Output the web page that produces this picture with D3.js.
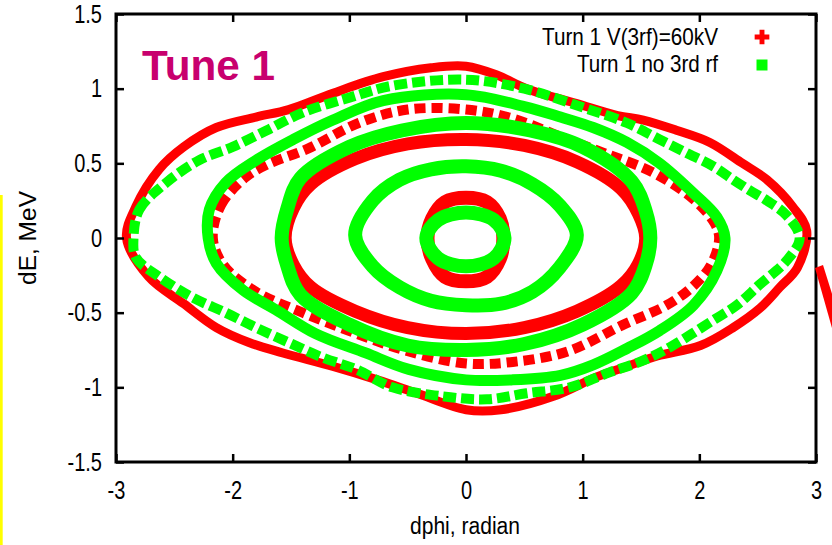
<!DOCTYPE html>
<html><head><meta charset="utf-8">
<script src="https://cdn.jsdelivr.net/npm/d3@7"></script>
<style>html,body{margin:0;padding:0;background:#fff;overflow:hidden}</style>
</head><body>
<svg id="c" width="832" height="545" xmlns="http://www.w3.org/2000/svg"></svg>
<script>
// ---------- data ----------
const xTicks = [-3, -2, -1, 0, 1, 2, 3];
const xTickLabels = ["-3", "-2", "-1", "0", "1", "2", "3"];
const yTicks = [-1.5, -1, -0.5, 0, 0.5, 1, 1.5];
const yTickLabels = ["-1.5", "-1", "-0.5", "0", "0.5", "1", "1.5"];
const seriesNames = ["Turn 1 V(3rf)=60kV", "Turn 1 no 3rd rf"];

// series 1 (red): orbits with 3rd harmonic, [dphi, dE]
const red1 = [[-0.33,0],[-0.29,0.13],[-0.18,0.24],[0,0.27],[0.18,0.24],[0.29,0.13],[0.32,0],[0.29,-0.14],[0.18,-0.26],[0,-0.29],[-0.18,-0.26],[-0.29,-0.14]];
const red3 = [[-1.55,0],[-1.48,0.2],[-1.33,0.36],[-0.95,0.53],[-0.5,0.63],[0,0.66],[0.5,0.62],[0.95,0.51],[1.33,0.33],[1.48,0.16],[1.54,0],[1.48,-0.17],[1.33,-0.32],[0.95,-0.49],[0.5,-0.6],[0,-0.64],[-0.5,-0.6],[-0.95,-0.49],[-1.33,-0.33],[-1.48,-0.18]];
const red4 = [[-2.17,0],[-2.1,0.22],[-1.9,0.4],[-1.71,0.49],[-1.35,0.6],[-0.92,0.77],[-0.5,0.86],[0,0.86],[0.4,0.8],[0.87,0.66],[1.18,0.57],[1.6,0.44],[1.95,0.26],[2.13,0.1],[2.17,0],[2.1,-0.18],[1.95,-0.32],[1.72,-0.45],[1.35,-0.58],[0.87,-0.76],[0.4,-0.83],[0,-0.84],[-0.49,-0.76],[-0.94,-0.64],[-1.4,-0.5],[-1.8,-0.36],[-2.08,-0.18]];
const red5 = [[-2.91,0],[-2.83,0.21],[-2.63,0.46],[-2.42,0.61],[-2.14,0.74],[-1.8,0.81],[-1.52,0.86],[-1.14,0.97],[-0.71,1.08],[-0.3,1.14],[0,1.15],[0.27,1.09],[0.52,1.0],[0.95,0.9],[1.3,0.82],[1.52,0.79],[1.81,0.72],[2.09,0.64],[2.37,0.5],[2.58,0.39],[2.8,0.21],[2.92,0.05],[2.84,-0.2],[2.69,-0.33],[2.52,-0.47],[2.29,-0.6],[2.01,-0.72],[1.64,-0.79],[1.38,-0.86],[1.12,-0.93],[0.75,-1.06],[0.3,-1.15],[0,-1.15],[-0.42,-1.04],[-0.76,-0.95],[-1.14,-0.86],[-1.57,-0.77],[-1.86,-0.7],[-2.14,-0.6],[-2.42,-0.44],[-2.72,-0.26]];

// series 2 (green): orbits without 3rd harmonic
const green1 = [[-0.34,0],[-0.24,0.12],[0,0.17],[0.24,0.12],[0.33,0],[0.24,-0.135],[0,-0.19],[-0.24,-0.135]];
const green2 = [[-0.95,0.02],[-0.8,0.25],[-0.57,0.39],[-0.3,0.46],[0,0.48],[0.3,0.45],[0.57,0.36],[0.8,0.22],[0.95,0.02],[0.8,-0.2],[0.57,-0.36],[0.3,-0.44],[0,-0.45],[-0.3,-0.42],[-0.57,-0.33],[-0.8,-0.19]];
const green3 = [[-1.58,0],[-1.53,0.2],[-1.42,0.4],[-1.0,0.61],[-0.55,0.72],[0,0.77],[0.55,0.72],[1.0,0.61],[1.42,0.38],[1.54,0.18],[1.58,0],[1.54,-0.18],[1.42,-0.37],[1.0,-0.58],[0.5,-0.71],[0,-0.75],[-0.5,-0.72],[-1.0,-0.58],[-1.42,-0.38],[-1.53,-0.19]];
const green4 = [[-2.21,0],[-2.2,0.19],[-2.06,0.37],[-1.8,0.52],[-1.48,0.66],[-1.14,0.79],[-0.71,0.92],[0,0.96],[0.5,0.88],[0.81,0.81],[1.09,0.74],[1.38,0.64],[1.66,0.5],[1.95,0.3],[2.15,0.14],[2.22,0],[2.15,-0.22],[1.95,-0.45],[1.66,-0.62],[1.38,-0.74],[1.09,-0.85],[0.81,-0.92],[0.4,-0.95],[0,-0.95],[-0.49,-0.88],[-0.86,-0.77],[-1.29,-0.64],[-1.63,-0.48],[-1.91,-0.35],[-2.14,-0.17]];
const green5 = [[-2.85,0],[-2.8,0.19],[-2.57,0.37],[-2.29,0.52],[-2.0,0.61],[-1.71,0.72],[-1.4,0.84],[-1.0,0.94],[-0.63,1.02],[0,1.06],[0.5,1.0],[0.98,0.88],[1.38,0.77],[1.66,0.66],[1.89,0.57],[2.12,0.48],[2.29,0.39],[2.43,0.32],[2.58,0.25],[2.75,0.15],[2.86,0],[2.75,-0.15],[2.52,-0.31],[2.32,-0.45],[2.12,-0.55],[1.75,-0.73],[1.52,-0.82],[1.23,-0.9],[0.89,-1.0],[0.52,-1.04],[0.18,-1.08],[-0.2,-1.06],[-0.63,-1.0],[-0.94,-0.88],[-1.23,-0.8],[-1.52,-0.7],[-1.8,-0.6],[-2.06,-0.5],[-2.34,-0.4],[-2.63,-0.26],[-2.83,-0.13]];

// ---------- styles (kept apart from data) ----------
const colors = ["#ff0000", "#00ff00"];
const redRings = [
  {d: red5, w: 9, dash: null},
  {d: red4, w: 10, dash: "11 6"},
  {d: red3, w: 13, dash: null},
  {d: red1, w: 14, dash: null}
];
const greenRings = [
  {d: green5, w: 10, dash: "13 5"},
  {d: green4, w: 11, dash: null},
  {d: green3, w: 14, dash: null},
  {d: green2, w: 14, dash: null},
  {d: green1, w: 14, dash: null}
];

// ---------- layout ----------
const W = 832, H = 545;
const L = 116, R = 816, T = 14, B = 462;
const x = d3.scaleLinear().domain([-3, 3]).range([L, R]);
const y = d3.scaleLinear().domain([-1.5, 1.5]).range([B, T]);
const svg = d3.select("#c");
const font = "'Liberation Sans',Arial,sans-serif";
const squeeze = 0.8;
function narrow(sel) {
  sel.each(function() {
    const w = this.getComputedTextLength();
    if (w > 0) d3.select(this).attr("textLength", w * squeeze).attr("lengthAdjust", "spacingAndGlyphs");
  });
}

svg.append("rect").attr("x", 0).attr("y", 0).attr("width", W).attr("height", H).attr("fill", "#fff");

// yellow edge line
svg.append("rect").attr("x", 0).attr("y", 195).attr("width", 2.7).attr("height", H - 195).attr("fill", "#ffff00");

// rings
const line = d3.line().x(d => x(d[0])).y(d => y(d[1])).curve(d3.curveCatmullRomClosed.alpha(0.5));
const gPlot = svg.append("g");
function drawRings(rings, col) {
  gPlot.selectAll(null).data(rings).enter().append("path")
    .attr("d", r => line(r.d))
    .attr("fill", "none")
    .attr("stroke", col)
    .attr("stroke-width", r => r.w)
    .attr("stroke-linejoin", "round")
    .attr("stroke-dasharray", r => r.dash);
}
drawRings(redRings, colors[0]);
drawRings(greenRings, colors[1]);

// axes (ticks inward, mirrored)
const axB = svg.append("g").attr("transform", `translate(0,${B})`)
  .call(d3.axisBottom(x).tickValues(xTicks).tickSizeInner(-8).tickSizeOuter(0).tickPadding(19)
    .tickFormat((d, i) => xTickLabels[i]));
const axT = svg.append("g").attr("transform", `translate(0,${T})`)
  .call(d3.axisTop(x).tickValues(xTicks).tickSizeInner(-8).tickSizeOuter(0).tickFormat(""));
const axL = svg.append("g").attr("transform", `translate(${L},0)`)
  .call(d3.axisLeft(y).tickValues(yTicks).tickSizeInner(-8).tickSizeOuter(0).tickPadding(14)
    .tickFormat((d, i) => yTickLabels[i]));
const axR = svg.append("g").attr("transform", `translate(${R},0)`)
  .call(d3.axisRight(y).tickValues(yTicks).tickSizeInner(-8).tickSizeOuter(0).tickFormat(""));
[axB, axT, axL, axR].forEach(a => {
  a.select(".domain").remove();
  a.selectAll(".tick line").attr("stroke", "#000").attr("stroke-width", 2.5);
  a.selectAll(".tick text").attr("fill", "#000").attr("font-family", font).attr("font-size", 25);
});
axB.selectAll(".tick text").attr("dy", "0.7em");
narrow(axB.selectAll(".tick text"));
narrow(axL.selectAll(".tick text"));
svg.append("rect").attr("x", L).attr("y", T).attr("width", R - L).attr("height", B - T)
  .attr("fill", "none").attr("stroke", "#000").attr("stroke-width", 3);

// axis titles
svg.append("text").attr("x", 465).attr("y", 534).attr("text-anchor", "middle")
  .attr("font-family", font).attr("font-size", 23).attr("fill", "#000")
  .attr("textLength", 110).attr("lengthAdjust", "spacingAndGlyphs").text("dphi, radian");
svg.append("text").attr("transform", "translate(36,238) rotate(-90)").attr("text-anchor", "middle")
  .attr("font-family", font).attr("font-size", 23).attr("fill", "#000")
  .attr("textLength", 94).attr("lengthAdjust", "spacingAndGlyphs").text("dE, MeV");

// Tune label
svg.append("text").attr("x", 142).attr("y", 80).attr("font-family", font)
  .attr("font-weight", "bold").attr("font-size", 43).attr("fill", "#c8006e")
  .attr("textLength", 133).attr("lengthAdjust", "spacingAndGlyphs").text("Tune 1");

// legend
const legY = [45, 72];
const legW = [176, 141];
svg.selectAll(".leg").data(seriesNames).enter().append("text")
  .attr("x", 718).attr("y", (d, i) => legY[i]).attr("text-anchor", "end")
  .attr("font-family", font).attr("font-size", 24).attr("fill", "#000")
  .attr("textLength", (d, i) => legW[i]).attr("lengthAdjust", "spacingAndGlyphs").text(d => d);
svg.append("path").attr("d", d3.symbol(d3.symbolCross, 120)()).attr("transform", "translate(762,37)").attr("fill", colors[0]);
svg.append("path").attr("d", d3.symbol(d3.symbolSquare, 121)()).attr("transform", "translate(762,65)").attr("fill", colors[1]);

// red stroke fragment at right edge
svg.append("path").attr("d", "M815,268 L823,265 L834,300 L834,335 Z").attr("fill", "#ff0000");
</script>
</body></html>
